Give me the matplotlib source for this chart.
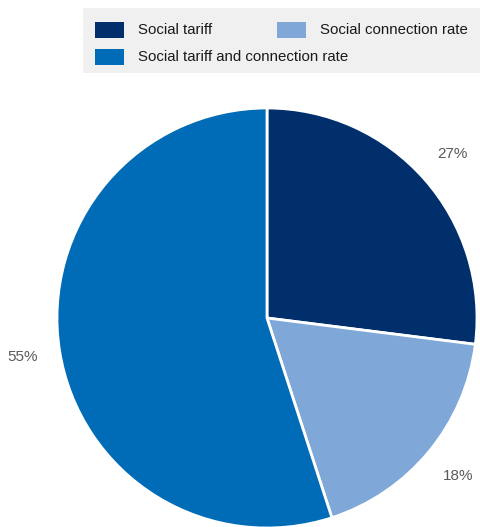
import matplotlib.pyplot as plt
from matplotlib.patches import Rectangle

plt.rcParams["font.family"] = ["Liberation Sans Narrow", "Liberation Sans", "DejaVu Sans"]

LABELS = ["Social tariff", "Social connection rate", "Social tariff and connection rate"]
SHARES = [27, 18, 55]
COLORS = ["#002f6c", "#7fa8d9", "#006bb6"]

W, H = 480, 527


def fx(px):
    return px / W


def fy(py):
    return 1 - py / H


fig = plt.figure(figsize=(W / 100, H / 100), dpi=100)

# legend band across the top
fig.patches.append(Rectangle((fx(83), fy(73)), fx(480) - fx(83), fy(8) - fy(73),
                             transform=fig.transFigure, facecolor="#f0f0f0",
                             edgecolor="none", zorder=0))
legend_slots = [(95, 30), (277, 30), (95, 57)]
for (x, y), label, color in zip(legend_slots, LABELS, COLORS):
    fig.patches.append(Rectangle((fx(x), fy(y + 8)), fx(29), 16 / H,
                                 transform=fig.transFigure, facecolor=color,
                                 edgecolor="none", zorder=1))
    fig.text(fx(x + 43), fy(y), label, fontsize=10.8, color="#1a1a1a",
             va="center", ha="left")

# pie centred at (267, 318) px with radius 210 px
cx, cy, r = 267, 318, 210
ax = fig.add_axes([fx(cx - r), fy(cy + r), 2 * r / W, 2 * r / H])
ax.pie(SHARES, colors=COLORS, startangle=90, counterclock=False,
       autopct=lambda p: f"{p:.0f}%", pctdistance=1.18,
       wedgeprops=dict(edgecolor="white", linewidth=2),
       textprops=dict(fontsize=11, color="#595959"))
ax.set_xlim(-1, 1)
ax.set_ylim(-1, 1)
ax.set_aspect("equal")

fig.savefig("out.png", dpi=100)
